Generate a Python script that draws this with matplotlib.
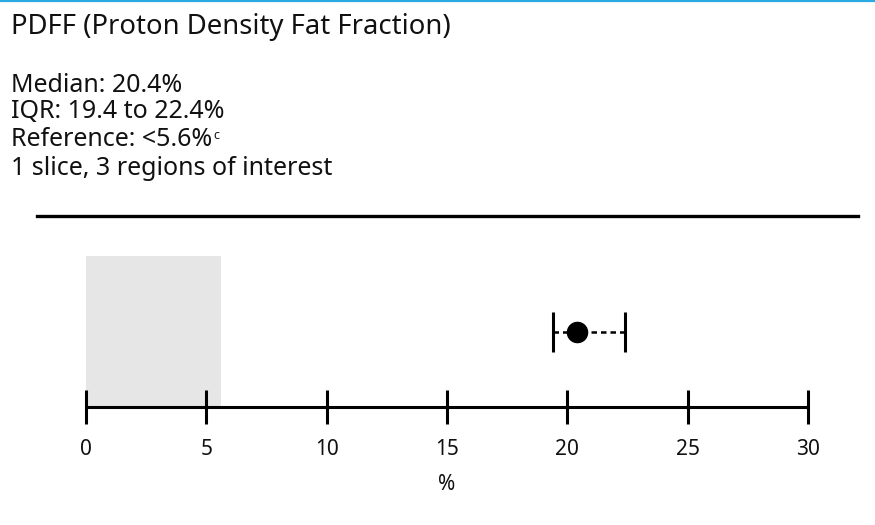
import matplotlib
matplotlib.use("Agg")
import matplotlib.pyplot as plt
from matplotlib.lines import Line2D

# ---- data ----
title = "PDFF (Proton Density Fat Fraction)"
median = 20.4
iqr_low = 19.4
iqr_high = 22.4
reference_upper = 5.6
info_lines = ["Median: 20.4%", "IQR: 19.4 to 22.4%", "Reference: <5.6%", "1 slice, 3 regions of interest"]
x_ticks = [0, 5, 10, 15, 20, 25, 30]
x_label = "%"

W, H = 875, 525
fig = plt.figure(figsize=(W / 100, H / 100), dpi=100)
plt.rcParams['font.family'] = ['Noto Sans', 'DejaVu Sans']

def fx(px):
    return px / W

def fy(py):
    return 1 - py / H

# top blue rule
fig.add_artist(Line2D([0, 1], [fy(1), fy(1)], color="#29ABE2", lw=1.6, transform=fig.transFigure))

fig.text(fx(11), fy(27), title, fontsize=19.8, va="center", ha="left", color="#111111")

ys = [85, 112, 140, 168]
texts = []
for line, y in zip(info_lines, ys):
    t = fig.text(fx(11), fy(y), line, fontsize=18, va="center", ha="left", color="#111111")
    texts.append(t)

fig.canvas.draw()
bb = texts[2].get_window_extent()
fig.text(bb.x1 / W + 0.001, fy(ys[2] - 4), "c", fontsize=9, va="center", ha="left", color="#111111")

# separator line
fig.add_artist(Line2D([fx(37), fx(858)], [fy(216), fy(216)], color="black", lw=2.4, transform=fig.transFigure))

# main axes: x 0..30 maps to 86..808 px; y 0..1 maps to 407..256 px
ax = fig.add_axes([fx(86), fy(407), fx(808) - fx(86), (407 - 256) / H])
ax.set_xlim(x_ticks[0], x_ticks[-1])
ax.set_ylim(0, 1)
ax.axvspan(0, reference_upper, ymin=0, ymax=1, color="#e6e6e6", lw=0, zorder=0)

# error bar (IQR) with dashed line
half = 20 / 151
ax.plot([iqr_low, iqr_high], [0.5, 0.5], color="black", lw=1.8, ls=(0, (2.2, 1.6)), zorder=2)
ax.plot([iqr_low, iqr_low], [0.5 - half, 0.5 + half], color="black", lw=2.2, solid_capstyle="butt", zorder=3)
ax.plot([iqr_high, iqr_high], [0.5 - half, 0.5 + half], color="black", lw=2.2, solid_capstyle="butt", zorder=3)
ax.plot([median], [0.5], "o", color="black", ms=14.5, zorder=4)

for s in ["top", "left", "right"]:
    ax.spines[s].set_visible(False)
ax.spines["bottom"].set_linewidth(2.2)
ax.spines["bottom"].set_capstyle("butt")
ax.set_yticks([])
ax.set_xticks(x_ticks)
ax.set_xticklabels([str(v) for v in x_ticks])
ax.tick_params(axis="x", direction="inout", length=25, width=2.2, pad=10.5, labelsize=15, labelcolor="#111111")
ax.set_xlabel(x_label, fontsize=15, labelpad=10, color="#111111")
ax.patch.set_alpha(0)

fig.savefig("out.png", dpi=100, facecolor="white")
